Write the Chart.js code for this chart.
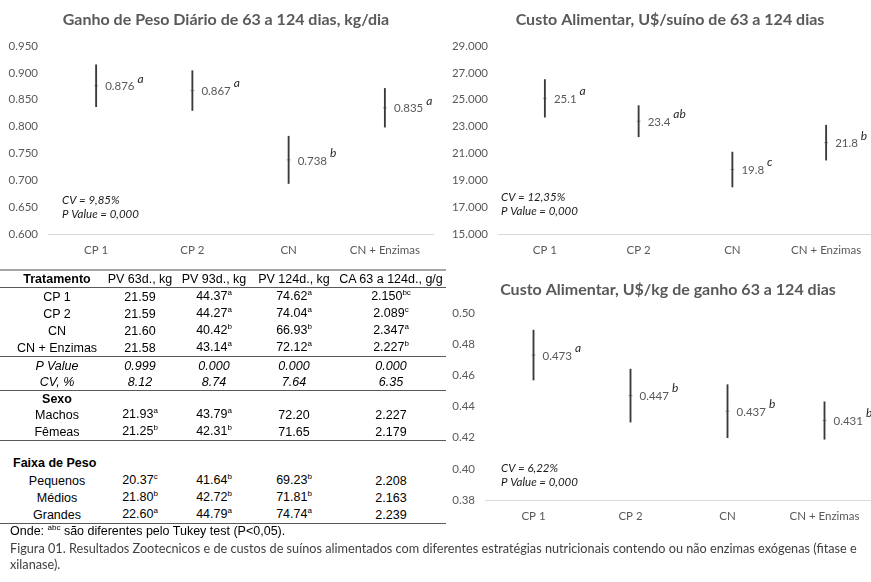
<!DOCTYPE html>
<html><head><meta charset="utf-8">
<script src="https://cdn.jsdelivr.net/npm/chart.js@4"></script>
<style>
html,body{margin:0;padding:0;background:#fff;}
body{width:871px;height:582px;overflow:hidden;position:relative;font-family:"Liberation Sans",Arial,sans-serif;}
canvas{position:absolute;}
#c1{left:0;top:0;}
#c2{left:440px;top:0;}
#c3{left:440px;top:270px;}
.cell{position:absolute;white-space:nowrap;font-size:12.5px;color:#000;line-height:14px;transform:translate(-50%,-50%);}
.left{transform:translate(0,-50%);}
.sup{font-size:8px;position:relative;top:-5px;}
.hline{position:absolute;left:0;width:446px;}
#caption{position:absolute;left:10px;top:540px;font-family:Lato,sans-serif;color:#404040;line-height:16px;white-space:nowrap;}
</style>
</head><body>
<canvas id="c1" width="440" height="262"></canvas>
<canvas id="c2" width="436" height="262"></canvas>
<canvas id="c3" width="436" height="258"></canvas>
<div id="table"></div>
<div id="caption"><span id="cap1">Figura 01. Resultados Zootecnicos e de custos de suínos alimentados com diferentes estratégias nutricionais contendo ou não enzimas exógenas (fitase e</span><br><span id="cap2">xilanase).</span></div>
<script>
// ---------- chart data ----------
const categories = ["CP 1", "CP 2", "CN", "CN + Enzimas"];

const gpdTitle = "Ganho de Peso Diário de 63 a 124 dias, kg/dia";
const gpdValues = [0.876, 0.867, 0.738, 0.835];
const gpdErrors = [0.039, 0.037, 0.044, 0.036];
const gpdLetters = ["a", "a", "b", "a"];
const gpdStats = ["CV = 9,85%", "P Value = 0,000"];

const suinoTitle = "Custo Alimentar, U$/suíno de 63 a 124 dias";
const suinoValues = [25.1, 23.4, 19.8, 21.8];
const suinoErrors = [1.4, 1.16, 1.3, 1.3];
const suinoLetters = ["a", "ab", "c", "b"];
const suinoStats = ["CV = 12,35%", "P Value = 0,000"];

const kgTitle = "Custo Alimentar, U$/kg de ganho 63 a 124 dias";
const kgValues = [0.473, 0.447, 0.437, 0.431];
const kgErrors = [0.016, 0.017, 0.017, 0.012];
const kgLetters = ["a", "b", "b", "b"];
const kgStats = ["CV = 6,22%", "P Value = 0,000"];

// ---------- table data ----------
const tableHeader = ["Tratamento", "PV 63d., kg", "PV 93d., kg", "PV 124d., kg", "CA 63 a 124d., g/g"];
const tratamentoRows = [
  [["CP 1"], ["21.59"], ["44.37", "a"], ["74.62", "a"], ["2.150", "bc"]],
  [["CP 2"], ["21.59"], ["44.27", "a"], ["74.04", "a"], ["2.089", "c"]],
  [["CN"], ["21.60"], ["40.42", "b"], ["66.93", "b"], ["2.347", "a"]],
  [["CN + Enzimas"], ["21.58"], ["43.14", "a"], ["72.12", "a"], ["2.227", "b"]]
];
const statRows = [
  [["P Value"], ["0.999"], ["0.000"], ["0.000"], ["0.000"]],
  [["CV, %"], ["8.12"], ["8.74"], ["7.64"], ["6.35"]]
];
const sexoTitle = "Sexo";
const sexoRows = [
  [["Machos"], ["21.93", "a"], ["43.79", "a"], ["72.20"], ["2.227"]],
  [["Fêmeas"], ["21.25", "b"], ["42.31", "b"], ["71.65"], ["2.179"]]
];
const pesoTitle = "Faixa de Peso";
const pesoRows = [
  [["Pequenos"], ["20.37", "c"], ["41.64", "b"], ["69.23", "b"], ["2.208"]],
  [["Médios"], ["21.80", "b"], ["42.72", "b"], ["71.81", "b"], ["2.163"]],
  [["Grandes"], ["22.60", "a"], ["44.79", "a"], ["74.74", "a"], ["2.239"]]
];
const footNote = ["Onde: ", "abc", " são diferentes pelo Tukey test (P<0,05)."];

// ---------- table layout ----------
const colX = [57, 140, 214, 294, 391];
const tbl = document.getElementById('table');
function addLine(y, h, color) {
  const d = document.createElement('div');
  d.className = 'hline';
  d.style.top = y + 'px'; d.style.height = h + 'px'; d.style.background = color;
  tbl.appendChild(d);
}
function addCell(x, y, parts, style, left) {
  const d = document.createElement('div');
  d.className = 'cell' + (left ? ' left' : '');
  d.style.left = x + 'px'; d.style.top = y + 'px';
  if (style) Object.assign(d.style, style);
  d.appendChild(document.createTextNode(parts[0]));
  if (parts[1]) {
    const s = document.createElement('span'); s.className = 'sup'; s.textContent = parts[1];
    d.appendChild(s);
  }
  if (parts[2]) d.appendChild(document.createTextNode(parts[2]));
  tbl.appendChild(d);
}
function addRow(row, y, style) {
  row.forEach((c, i) => addCell(colX[i], y, c, style));
}
addLine(269, 2, '#a6a6a6');
tableHeader.forEach((h, i) => addCell(colX[i], 279, [h], i === 0 ? {fontWeight: 'bold'} : null));
addLine(287, 1, '#595959');
const trY = [297, 314, 331, 348];
tratamentoRows.forEach((r, i) => addRow(r, trY[i]));
addLine(356, 1, '#595959');
const stY = [366, 382];
statRows.forEach((r, i) => addRow(r, stY[i], {fontStyle: 'italic'}));
addLine(390, 1, '#595959');
addCell(colX[0], 399, [sexoTitle], {fontWeight: 'bold'});
const sxY = [415, 432];
sexoRows.forEach((r, i) => addRow(r, sxY[i]));
addLine(440, 1, '#595959');
addCell(13, 463, [pesoTitle], {fontWeight: 'bold'}, true);
const pzY = [481, 498, 515];
pesoRows.forEach((r, i) => addRow(r, pzY[i]));
addLine(523, 1, '#595959');
addCell(10, 532, footNote, null, true);

// ---------- caption fit ----------
(function () {
  const c1 = document.getElementById('cap1');
  const cap = document.getElementById('caption');
  cap.style.fontSize = '12px';
  const w = c1.getBoundingClientRect().width;
  cap.style.fontSize = (12 * 848 / w) + 'px';
})();

// ---------- charts ----------
const FONT = 'Lato, "Open Sans", sans-serif';
const labelPlugin = {
  id: 'vlabels',
  afterDatasetsDraw(chart, args, o) {
    const {ctx, chartArea} = chart;
    const x = chart.scales.x, y = chart.scales.y;
    ctx.save();
    ctx.textBaseline = 'middle';
    // title
    ctx.textAlign = 'center';
    ctx.font = 'bold 16px ' + FONT;
    ctx.fillStyle = '#595959';
    ctx.fillText(o.title, o.titleX, 20);
    ctx.textAlign = 'left';
    o.values.forEach((v, i) => {
      const px = x.getPixelForValue(i), py = y.getPixelForValue(v);
      const t = v.toFixed(o.decimals);
      ctx.font = '11.5px ' + FONT;
      ctx.fillStyle = '#595959';
      ctx.fillText(t, px + 9, py + 1);
      const w = ctx.measureText(t).width;
      ctx.font = 'italic 12px ' + FONT;
      ctx.fillStyle = '#262626';
      ctx.fillText(o.letters[i], px + 9 + w + 3, py - 7);
    });
    ctx.font = 'italic 11.5px ' + FONT;
    ctx.fillStyle = '#1a1a1a';
    ctx.fillText(o.stats[0], chartArea.left + o.statDx, chartArea.bottom + o.statDy);
    ctx.fillText(o.stats[1], chartArea.left + o.statDx, chartArea.bottom + o.statDy + 14.5);
    ctx.restore();
  }
};

function makeChart(id, title, values, errors, letters, stats, cfg) {
  return new Chart(document.getElementById(id), {
    type: 'bar',
    data: {
      labels: categories,
      datasets: [
        {type: 'bar', data: values.map((v, i) => [v - errors[i], v + errors[i]]),
         backgroundColor: '#3a3a3a', borderWidth: 0, barThickness: 1.2},
        {type: 'line', data: values, showLine: false, pointStyle: 'line', pointRadius: 2,
         pointBorderColor: '#a6a6a6', borderColor: '#a6a6a6', pointBorderWidth: 1, pointHoverRadius: 0}
      ]
    },
    options: {
      responsive: false, animation: false, events: [],
      layout: {padding: {left: 0, right: cfg.padR, top: cfg.padT, bottom: 0}},
      plugins: {
        legend: {display: false}, tooltip: {enabled: false}, title: {display: false},
        vlabels: {title, titleX: cfg.titleX, values, letters, stats, decimals: cfg.labelDec, statDx: cfg.statDx, statDy: cfg.statDy}
      },
      scales: {
        x: {
          grid: {display: false, drawTicks: false},
          border: {display: true, color: '#d9d9d9', width: 1},
          ticks: {color: '#595959', font: {family: FONT, size: 11.5}, padding: 9, maxRotation: 0, autoSkip: false},
          afterFit(s) { s.height = 28; }
        },
        y: {
          min: cfg.min, max: cfg.max,
          grid: {display: false, drawTicks: false},
          border: {display: false},
          ticks: {stepSize: cfg.step, color: '#595959', font: {family: FONT, size: 11.5}, padding: 10,
                  callback: v => Number(v).toFixed(cfg.tickDec)},
          afterFit(s) { s.width = cfg.yW; }
        }
      }
    },
    plugins: [labelPlugin]
  });
}

makeChart('c1', gpdTitle, gpdValues, gpdErrors, gpdLetters, gpdStats,
  {padR: 7, padT: 46, yW: 48, titleX: 226, min: 0.6, max: 0.95, step: 0.05, tickDec: 3, labelDec: 3, statDx: 14, statDy: -34});
makeChart('c2', suinoTitle, suinoValues, suinoErrors, suinoLetters, suinoStats,
  {padR: 1, padT: 46, yW: 58, titleX: 230, min: 15, max: 29, step: 2, tickDec: 3, labelDec: 1, statDx: 3, statDy: -37});
makeChart('c3', kgTitle, kgValues, kgErrors, kgLetters, kgStats,
  {padR: 2, padT: 43, yW: 45, titleX: 228, min: 0.38, max: 0.50, step: 0.02, tickDec: 2, labelDec: 3, statDx: 16, statDy: -32});
</script>
</body></html>
